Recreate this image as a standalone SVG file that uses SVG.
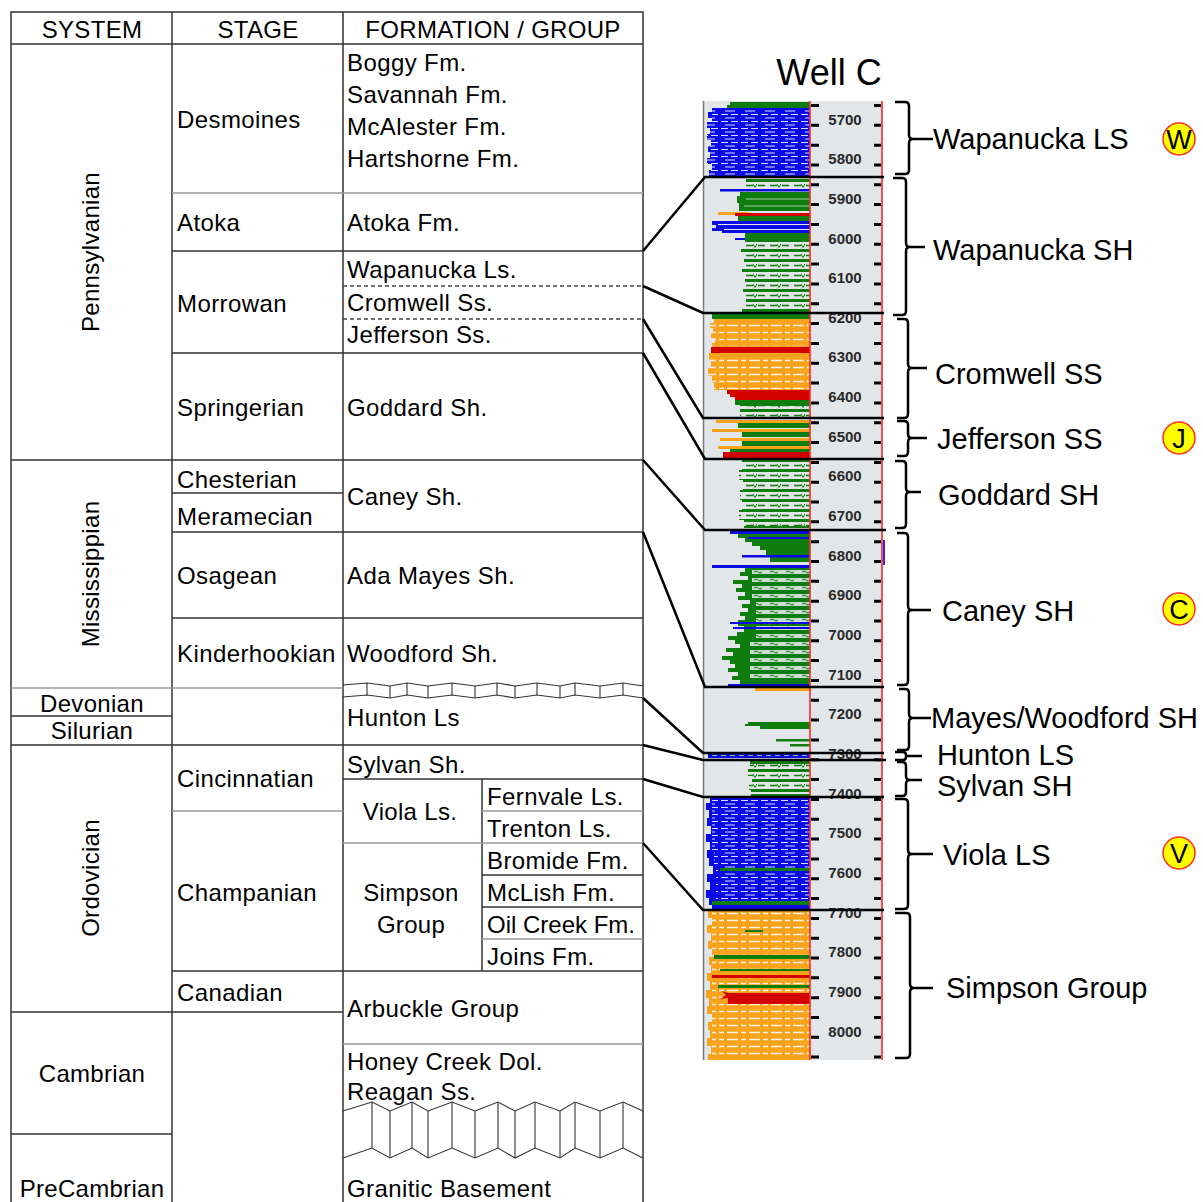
<svg xmlns="http://www.w3.org/2000/svg" width="1203" height="1202" viewBox="0 0 1203 1202">
<style>
text{font-family:"Liberation Sans",Arial,sans-serif;fill:#000}
.t{font-size:24px;letter-spacing:0.4px}
.tm{font-size:24px;text-anchor:middle;letter-spacing:0.3px}
.ln{stroke:#333;stroke-width:1.5;fill:none}
.lg{stroke:#999;stroke-width:1.5;fill:none}
.dash{stroke:#444;stroke-width:1.3;stroke-dasharray:4 3;fill:none}
.wv{stroke:#333;stroke-width:1.1;fill:none}
.dep{font-size:15px;font-weight:bold;text-anchor:middle;fill:#2a2a2a}
.lab{font-size:29px}
.br{stroke:#000;stroke-width:2.5;fill:none}
.con{stroke:#000;stroke-width:2.5;fill:none}
.bl{fill:#0a0ae6}.gr{fill:#0e7d0e}.or{fill:#f9a21c}.rd{fill:#d40000}
.circ{fill:#ffff00;stroke:#ff2a2a;stroke-width:1.5}
.cl{font-size:27px;text-anchor:middle}
</style>
<defs>
<pattern id="lsP" width="20" height="7" patternUnits="userSpaceOnUse">
<path d="M1,2.5 H8 M11,2.5 H18 M5,6 H15" stroke="#ffffff" stroke-width="1.2" opacity="0.85"/>
</pattern>
<pattern id="shP" width="24" height="10" patternUnits="userSpaceOnUse">
<rect y="2" width="24" height="7" fill="#e2e6e8"/>
<path d="M2,5.5 H9 M14,5.5 H21" stroke="#0e7d0e" stroke-width="1.6"/>
<path d="M9,4 L11,7.5 L13,4" stroke="#0e7d0e" stroke-width="1" fill="none"/>
</pattern>
<pattern id="siP" width="16" height="8" patternUnits="userSpaceOnUse">
<rect y="2" width="16" height="4" fill="#e2e6e8" opacity="0.9"/>
<path d="M2,4 q2,-2 4,0 t4,0" stroke="#0e7d0e" stroke-width="1" fill="none"/>
</pattern>
<pattern id="ssP" width="22" height="7" patternUnits="userSpaceOnUse">
<path d="M1,3.5 H12 M15,3.5 H20" stroke="#ffffff" stroke-width="1.3" opacity="0.85"/>
</pattern>
</defs>

<!-- TABLE -->
<g id="table">
<rect x="11" y="12" width="632" height="1200" class="ln" stroke-width="2"/>
<path class="ln" d="M172,12 V1202 M343,12 V1202 M482,779 V971"/>
<path class="ln" stroke-width="2" d="M11,44 H643 M172,251 H643 M11,460 H643 M11,745 H643 M172,971 H643"/>
<path class="lg" d="M172,193 H643 M11,688 H343 M172,811 H343 M482,811 H643 M343,843 H643 M482,939 H643 M343,1044 H643"/>
<path class="ln" d="M172,353 H643 M172,493 H343 M172,532 H643 M172,618 H643 M11,716 H172 M343,779 H643 M482,875 H643 M482,907 H643 M11,1012 H343 M11,1134 H172"/>
<path class="dash" d="M343,286 H643 M343,319 H643"/>
<!-- small unconformity band -->
<path class="wv" d="M343,685 L367,683 L390,686 L407,683 L428,686 L452,683 L475,686 L497,683 L515,686 L537,683 L560,686 L575,683 L600,686 L623,683 L643,686"/>
<path class="wv" d="M343,697 L367,695 L390,698 L407,695 L428,698 L452,695 L475,698 L497,695 L515,698 L537,695 L560,698 L575,695 L600,698 L623,695 L643,698"/>
<path class="wv" d="M367,683 V695 M390,686 V698 M407,683 V695 M428,686 V698 M452,683 V695 M475,686 V698 M497,683 V695 M515,686 V698 M537,683 V695 M560,686 V698 M575,683 V695 M600,686 V698 M623,683 V695"/>
<!-- large unconformity band -->
<path class="wv" d="M343,1111 L372,1102 L390,1111 L412,1102 L428,1111 L452,1102 L475,1111 L498,1102 L515,1111 L535,1102 L560,1111 L575,1102 L600,1111 L623,1102 L643,1111"/>
<path class="wv" d="M343,1158 L372,1148 L390,1158 L412,1148 L428,1158 L452,1148 L475,1158 L498,1148 L515,1158 L535,1148 L560,1158 L575,1148 L600,1158 L623,1148 L643,1158"/>
<path class="wv" d="M372,1102 V1148 M390,1111 V1158 M412,1102 V1148 M428,1111 V1158 M452,1102 V1148 M475,1111 V1158 M498,1102 V1148 M515,1111 V1158 M535,1102 V1148 M560,1111 V1158 M575,1102 V1148 M600,1111 V1158 M623,1102 V1148"/>

<text class="tm" x="92" y="38">SYSTEM</text>
<text class="tm" x="258" y="38">STAGE</text>
<text class="tm" x="493" y="38">FORMATION / GROUP</text>

<text class="tm" transform="translate(99,252) rotate(-90)">Pennsylvanian</text>
<text class="tm" transform="translate(99,574) rotate(-90)">Mississippian</text>
<text class="tm" transform="translate(99,878) rotate(-90)">Ordovician</text>
<text class="tm" x="92" y="712">Devonian</text>
<text class="tm" x="92" y="739">Silurian</text>
<text class="tm" x="92" y="1082">Cambrian</text>
<text class="tm" x="92" y="1197">PreCambrian</text>

<text class="t" x="177" y="128">Desmoines</text>
<text class="t" x="177" y="231">Atoka</text>
<text class="t" x="177" y="312">Morrowan</text>
<text class="t" x="177" y="416">Springerian</text>
<text class="t" x="177" y="488">Chesterian</text>
<text class="t" x="177" y="525">Meramecian</text>
<text class="t" x="177" y="584">Osagean</text>
<text class="t" x="177" y="662">Kinderhookian</text>
<text class="t" x="177" y="787">Cincinnatian</text>
<text class="t" x="177" y="901">Champanian</text>
<text class="t" x="177" y="1001">Canadian</text>

<text class="t" x="347" y="71">Boggy Fm.</text>
<text class="t" x="347" y="103">Savannah Fm.</text>
<text class="t" x="347" y="135">McAlester Fm.</text>
<text class="t" x="347" y="167">Hartshorne Fm.</text>
<text class="t" x="347" y="231">Atoka Fm.</text>
<text class="t" x="347" y="278">Wapanucka Ls.</text>
<text class="t" x="347" y="311">Cromwell Ss.</text>
<text class="t" x="347" y="343">Jefferson Ss.</text>
<text class="t" x="347" y="416">Goddard Sh.</text>
<text class="t" x="347" y="505">Caney Sh.</text>
<text class="t" x="347" y="584">Ada Mayes Sh.</text>
<text class="t" x="347" y="662">Woodford Sh.</text>
<text class="t" x="347" y="726">Hunton Ls</text>
<text class="t" x="347" y="773">Sylvan Sh.</text>
<text class="tm" x="410" y="820">Viola Ls.</text>
<text class="tm" x="411" y="901">Simpson</text>
<text class="tm" x="411" y="933">Group</text>
<text class="t" x="487" y="805">Fernvale Ls.</text>
<text class="t" x="487" y="837">Trenton Ls.</text>
<text class="t" x="487" y="869">Bromide Fm.</text>
<text class="t" x="487" y="901">McLish Fm.</text>
<text class="t" x="487" y="933" style="letter-spacing:0">Oil Creek Fm.</text>
<text class="t" x="487" y="965">Joins Fm.</text>
<text class="t" x="347" y="1017">Arbuckle Group</text>
<text class="t" x="347" y="1070">Honey Creek Dol.</text>
<text class="t" x="347" y="1100">Reagan Ss.</text>
<text class="t" x="347" y="1197">Granitic Basement</text>
</g>

<!-- WELL LOG -->
<g id="well-log">
<text x="829" y="85" style="font-size:36px;text-anchor:middle">Well C</text>
<rect x="703" y="101" width="180" height="959" fill="#e2e6e8"/>
<path d="M703.5,101 V1060" stroke="#7a7a7a" stroke-width="1.5"/>

<!-- A: Wapanucka LS -->
<path class="gr" d="M810,102 H730 V105 H727 V108 H810 Z"/>
<path class="bl" d="M810,108 H712 V112 H708 V118 H712 V122 H707 V128 H710 V134 H707 V140 H711 V146 H708 V152 H710 V158 H707 V164 H712 V170 H709 V177 H810 Z"/>
<path fill="url(#lsP)" d="M810,110 H712 V118 H712 V122 H707 V128 H710 V134 H707 V140 H711 V146 H708 V152 H710 V158 H707 V164 H712 V170 H709 V176 H810 Z"/>
<!-- B: Wapanucka SH -->
<path class="gr" d="M810,178 H746 V182 H743 V186 H745 V190 H810 Z"/>
<path fill="url(#shP)" d="M810,178 H746 V182 H743 V186 H745 V190 H810 Z"/>
<rect x="720" y="189" width="90" height="2.5" fill="#0a0ae6"/>
<path class="gr" d="M810,192 H740 V196 H737 V203 H739 V211 H810 Z"/>
<path d="M746,199 H810 M744,206 H810" stroke="#e2e6e8" stroke-width="1" opacity="0.7"/>
<rect x="718" y="212" width="30" height="3" class="or"/>
<rect x="735" y="213" width="75" height="3" class="rd"/>
<rect x="738" y="216" width="72" height="5" class="gr"/>
<path class="bl" d="M810,221 H712 V225 H716 V228 H712 V231 H722 V233 H810 Z"/>
<path d="M718,224.5 H810 M724,229.5 H810" stroke="#e2e6e8" stroke-width="1"/>
<rect x="735" y="238" width="75" height="2" class="bl"/>
<path class="gr" d="M810,233 H745 V245 H741 V255 H744 V265 H742 V275 H745 V285 H743 V295 H746 V305 H742 V313 H810 Z"/>
<path fill="url(#shP)" d="M810,241 H745 V245 H741 V255 H744 V265 H742 V275 H745 V285 H743 V295 H746 V305 H742 V311 H810 Z"/>
<!-- C: Cromwell SS -->
<rect x="712" y="314" width="98" height="5" class="gr"/>
<path class="or" d="M810,319 H714 V323 H710 V328 H713 V333 H711 V338 H715 V343 H712 V347 H810 Z"/>
<path fill="url(#ssP)" d="M810,320 H714 V323 H710 V328 H713 V333 H711 V338 H715 V343 H712 V346 H810 Z"/>
<rect x="711" y="347" width="99" height="6" class="rd"/>
<path class="or" d="M810,353 H709 V360 H711 V368 H708 V376 H712 V383 H714 V390 H810 Z"/>
<path fill="url(#ssP)" d="M810,355 H709 V360 H711 V368 H708 V376 H712 V383 H714 V389 H810 Z"/>
<path class="rd" d="M810,390 H727 V394 H730 V397 H735 V400 H810 Z"/>
<rect x="735" y="400" width="75" height="5" class="gr"/>
<path class="gr" d="M810,405 H740 V418 H810 Z"/>
<path fill="url(#shP)" d="M810,406 H740 V417 H810 Z"/>
<!-- D: Jefferson SS -->
<rect x="716" y="420" width="94" height="3" class="or"/>
<rect x="738" y="423" width="72" height="5" class="gr"/>
<rect x="712" y="429" width="98" height="3" class="or"/>
<rect x="742" y="432" width="68" height="5" class="gr"/>
<rect x="720" y="438" width="90" height="3" class="or"/>
<rect x="742" y="441" width="68" height="5" class="gr"/>
<rect x="718" y="446" width="92" height="3" class="or"/>
<rect x="730" y="449" width="80" height="3" class="gr"/>
<rect x="723" y="452" width="87" height="6" class="rd"/>
<!-- E: Goddard SH -->
<path class="gr" d="M810,460 H742 V470 H739 V480 H743 V490 H740 V500 H742 V510 H739 V520 H744 V528 H810 Z"/>
<path fill="url(#shP)" d="M810,461 H742 V470 H739 V480 H743 V490 H740 V500 H742 V510 H739 V520 H744 V526 H810 Z"/>
<!-- F: Caney SH -->
<rect x="730" y="531" width="80" height="3" class="bl"/>
<path class="gr" d="M810,534 H738 V538 H745 V542 H752 V546 H760 V550 H766 V556 H770 V562 H810 Z"/>
<rect x="748" y="537" width="62" height="2" class="bl"/>
<rect x="742" y="555" width="68" height="2.5" class="bl"/>
<rect x="712" y="565" width="98" height="3" class="bl"/>
<path class="gr" d="M810,568 H745 V572 H740 V576 H748 V580 H733 V584 H742 V588 H736 V592 H745 V596 H738 V600 H750 V604 H742 V608 H748 V612 H740 V616 H745 V620 H738 V626 H744 V632 H737 V636 H728 V640 H735 V644 H740 V648 H726 V652 H733 V656 H722 V660 H730 V664 H735 V668 H728 V672 H738 V676 H732 V680 H740 V685 H810 Z"/>
<path fill="url(#siP)" d="M810,570 H752 V600 H756 V640 H750 V682 H810 Z"/>
<rect x="730" y="622" width="80" height="2" class="bl"/>
<rect x="733" y="627" width="77" height="2" class="bl"/>
<rect x="728" y="684" width="82" height="2.5" class="bl"/>
<!-- G: Mayes/Woodford -->
<rect x="755" y="688" width="55" height="3" class="or"/>
<path class="gr" d="M810,722 H748 V724 H745 V726 H760 V729 H810 Z"/>
<rect x="776" y="739" width="34" height="2.5" class="gr"/>
<rect x="790" y="744" width="20" height="2.5" class="gr"/>
<!-- H: Hunton -->
<rect x="708" y="753" width="102" height="5" class="bl"/>
<path d="M712,755.5 H810" stroke="#7fbf7f" stroke-width="1.2" stroke-dasharray="5 4"/>
<!-- I: Sylvan -->
<path class="gr" d="M810,761 H750 V768 H748 V776 H752 V784 H749 V790 H751 V796 H810 Z"/>
<path fill="url(#shP)" d="M810,764 H750 V768 H748 V776 H752 V784 H749 V790 H751 V794 H810 Z"/>
<!-- J: Viola -->
<path class="bl" d="M810,797 H710 V803 H706 V810 H709 V818 H707 V826 H711 V834 H706 V842 H710 V850 H707 V858 H709 V866 H713 V874 H707 V882 H710 V890 H706 V898 H709 V905 H712 V909 H810 Z"/>
<path fill="url(#lsP)" d="M810,798 H712 V820 H712 V850 H714 V866 H716 V900 H810 Z"/>
<rect x="720" y="868" width="90" height="3" class="gr"/>
<rect x="712" y="901" width="98" height="4" class="gr"/>
<!-- K: Simpson -->
<path class="or" d="M810,911 H708 V918 H712 V925 H707 V933 H711 V941 H708 V949 H712 V957 H709 V965 H711 V973 H707 V981 H710 V990 H706 V998 H709 V1006 H707 V1014 H712 V1022 H708 V1030 H710 V1038 H707 V1046 H711 V1054 H708 V1060 H810 Z"/>
<path fill="url(#ssP)" d="M810,912 H712 V1058 H810 Z"/>
<rect x="745" y="930" width="18" height="2" class="gr"/>
<rect x="714" y="955" width="96" height="4" class="gr"/>
<rect x="720" y="969" width="90" height="2" class="gr"/>
<rect x="712" y="975" width="98" height="3" class="rd"/>
<rect x="718" y="985" width="92" height="3" class="gr"/>
<path class="rd" d="M810,993 H728 L722,991 L726,995 L720,999 L728,998 V1004 H810 Z"/>

<!-- red track lines -->
<path d="M810,101 V1060 M882,101 V1060" stroke="#ff2a2a" stroke-width="1.6"/>
<path d="M884,540 V565" stroke="#2a2ae6" stroke-width="2"/>
<!-- ticks -->
<path stroke="#000" stroke-width="3" d="M811,105.5 H819 M811,125.3 H819 M811,145.2 H819 M811,165 H819 M811,184.8 H819 M811,204.6 H819 M811,224.5 H819 M811,244.3 H819 M811,264.1 H819 M811,283.9 H819 M811,303.8 H819 M811,323.6 H819 M811,343.4 H819 M811,363.2 H819 M811,383.1 H819 M811,402.9 H819 M811,422.7 H819 M811,442.5 H819 M811,462.4 H819 M811,482.2 H819 M811,502 H819 M811,521.8 H819 M811,541.7 H819 M811,561.5 H819 M811,581.3 H819 M811,601.2 H819 M811,621 H819 M811,640.8 H819 M811,660.6 H819 M811,680.5 H819 M811,700.3 H819 M811,720.1 H819 M811,739.9 H819 M811,759.8 H819 M811,779.6 H819 M811,799.4 H819 M811,819.2 H819 M811,839.1 H819 M811,858.9 H819 M811,878.7 H819 M811,898.5 H819 M811,918.4 H819 M811,938.2 H819 M811,958 H819 M811,977.8 H819 M811,997.7 H819 M811,1017.5 H819 M811,1037.3 H819 M811,1057.1 H819"/>
<path stroke="#000" stroke-width="3" d="M874,105.5 H881 M874,125.3 H881 M874,145.2 H881 M874,165 H881 M874,184.8 H881 M874,204.6 H881 M874,224.5 H881 M874,244.3 H881 M874,264.1 H881 M874,283.9 H881 M874,303.8 H881 M874,323.6 H881 M874,343.4 H881 M874,363.2 H881 M874,383.1 H881 M874,402.9 H881 M874,422.7 H881 M874,442.5 H881 M874,462.4 H881 M874,482.2 H881 M874,502 H881 M874,521.8 H881 M874,541.7 H881 M874,561.5 H881 M874,581.3 H881 M874,601.2 H881 M874,621 H881 M874,640.8 H881 M874,660.6 H881 M874,680.5 H881 M874,700.3 H881 M874,720.1 H881 M874,739.9 H881 M874,759.8 H881 M874,779.6 H881 M874,799.4 H881 M874,819.2 H881 M874,839.1 H881 M874,858.9 H881 M874,878.7 H881 M874,898.5 H881 M874,918.4 H881 M874,938.2 H881 M874,958 H881 M874,977.8 H881 M874,997.7 H881 M874,1017.5 H881 M874,1037.3 H881 M874,1057.1 H881"/>
<!-- depth labels -->
<text class="dep" x="845" y="124.5">5700</text>
<text class="dep" x="845" y="164.2">5800</text>
<text class="dep" x="845" y="203.8">5900</text>
<text class="dep" x="845" y="243.5">6000</text>
<text class="dep" x="845" y="283.1">6100</text>
<text class="dep" x="845" y="322.8">6200</text>
<text class="dep" x="845" y="362.4">6300</text>
<text class="dep" x="845" y="402.1">6400</text>
<text class="dep" x="845" y="441.7">6500</text>
<text class="dep" x="845" y="481.4">6600</text>
<text class="dep" x="845" y="521">6700</text>
<text class="dep" x="845" y="560.7">6800</text>
<text class="dep" x="845" y="600.3">6900</text>
<text class="dep" x="845" y="640">7000</text>
<text class="dep" x="845" y="679.6">7100</text>
<text class="dep" x="845" y="719.3">7200</text>
<text class="dep" x="845" y="758.9">7300</text>
<text class="dep" x="845" y="798.6">7400</text>
<text class="dep" x="845" y="838.2">7500</text>
<text class="dep" x="845" y="877.9">7600</text>
<text class="dep" x="845" y="917.5">7700</text>
<text class="dep" x="845" y="957.2">7800</text>
<text class="dep" x="845" y="996.8">7900</text>
<text class="dep" x="845" y="1036.5">8000</text>
</g>

<!-- CONNECTORS -->
<g id="connectors">
<polyline class="con" points="643,251 705,177 884,177"/>
<polyline class="con" points="643,286 703,313 884,313"/>
<polyline class="con" points="643,319 703,418 884,418"/>
<polyline class="con" points="643,353 705,459 884,459"/>
<polyline class="con" points="643,460 705,530 886,530"/>
<polyline class="con" points="643,532 705,687 884,687"/>
<polyline class="con" points="643,698 703,753 884,753"/>
<polyline class="con" points="643,745 703,760 886,760"/>
<polyline class="con" points="643,779 703,797 884,797"/>
<polyline class="con" points="643,843 703,910 884,910"/>
</g>

<!-- BRACES -->
<g id="braces">
<path class="br" d="M895,102 H905 Q909,102 909,106 V135 Q909,139 913,139 H933 M913,139 Q909,139 909,143 V170 Q909,174 905,174 H895"/>
<path class="br" d="M893,178 H902 Q906,178 906,182 V243 Q906,247 910,247 H925 M910,247 Q906,247 906,251 V311 Q906,315 902,315 H893"/>
<path class="br" d="M897,319 H904 Q908,319 908,323 V364 Q908,368 912,368 H927 M912,368 Q908,368 908,372 V414 Q908,418 904,418 H897"/>
<path class="br" d="M897,421 H904 Q908,421 908,425 V434 Q908,438 912,438 H927 M912,438 Q908,438 908,442 V452 Q908,456 904,456 H897"/>
<path class="br" d="M895,461 H902 Q906,461 906,465 V488 Q906,492 910,492 H921 M910,492 Q906,492 906,496 V524 Q906,528 902,528 H895"/>
<path class="br" d="M897,533 H904 Q908,533 908,537 V606 Q908,610 912,610 H931 M912,610 Q908,610 908,614 V681 Q908,685 904,685 H897"/>
<path class="br" d="M899,689 H905 Q909,689 909,693 V714 Q909,718 913,718 H931 M913,718 Q909,718 909,722 V746 Q909,750 905,750 H897"/>
<path class="br" d="M895,752 H903 Q906,752 906,755 V756 H922 M906,756 V757 Q906,760 903,760 H895"/>
<path class="br" d="M897,762 H902 Q906,762 906,766 V776 Q906,780 910,780 H922 M910,780 Q906,780 906,784 V792 Q906,796 902,796 H895"/>
<path class="br" d="M895,799 H904 Q908,799 908,803 V850 Q908,854 912,854 H933 M912,854 Q908,854 908,858 V905 Q908,909 904,909 H895"/>
<path class="br" d="M895,913 H906 Q910,913 910,917 V984 Q910,988 914,988 H933 M914,988 Q910,988 910,992 V1054 Q910,1058 906,1058 H895"/>
</g>

<!-- LABELS -->
<g id="labels">
<text class="lab" x="933" y="149">Wapanucka LS</text>
<text class="lab" x="933" y="260">Wapanucka SH</text>
<text class="lab" x="935" y="384">Cromwell SS</text>
<text class="lab" x="937" y="449">Jefferson SS</text>
<text class="lab" x="938" y="505">Goddard SH</text>
<text class="lab" x="942" y="621">Caney SH</text>
<text class="lab" x="931" y="728">Mayes/Woodford SH</text>
<text class="lab" x="937" y="765">Hunton LS</text>
<text class="lab" x="937" y="796">Sylvan SH</text>
<text class="lab" x="943" y="865">Viola LS</text>
<text class="lab" x="946" y="998">Simpson Group</text>
</g>

<g id="marker-W"><circle class="circ" cx="1179" cy="139" r="16"/><text class="cl" x="1179" y="149">W</text></g>
<g id="marker-J"><circle class="circ" cx="1179" cy="438" r="16"/><text class="cl" x="1179" y="448">J</text></g>
<g id="marker-C"><circle class="circ" cx="1179" cy="609" r="16"/><text class="cl" x="1179" y="619">C</text></g>
<g id="marker-V"><circle class="circ" cx="1179" cy="853" r="16"/><text class="cl" x="1179" y="863">V</text></g>
</svg>
